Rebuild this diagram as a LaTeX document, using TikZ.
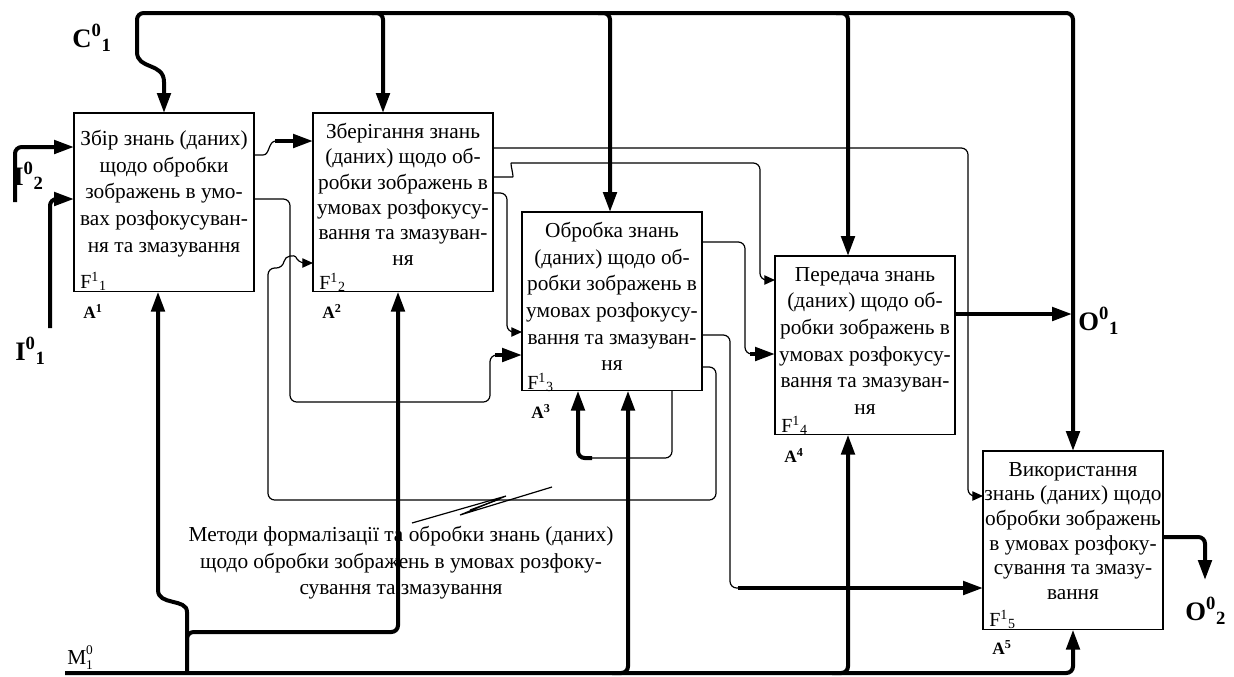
\documentclass[tikz,border=0pt]{standalone}
\usepackage{fontspec}
\setmainfont{Liberation Serif}
\usetikzlibrary{arrows.meta}
\newcommand\supsubx[2]{\textsuperscript{#1}\textsubscript{#2}}
\begin{document}
\begin{tikzpicture}[x=0.75pt,y=-0.75pt,
 box/.style={draw,line width=1pt,minimum width=135pt,minimum height=134pt,inner sep=0pt,outer sep=0pt,anchor=north west},
 thk/.style={line width=3pt},
 thn/.style={line width=0.9pt},
 bigarr/.style={-{Triangle[length=15pt,width=10pt]}},
 smallarr/.style={-{Triangle[length=8pt,width=7pt]}},
 btxt/.style={align=center,inner sep=0pt,anchor=north,font=\fontsize{16}{20}\selectfont},
 flab/.style={anchor=base west,inner sep=0pt,font=\fontsize{15}{15}\selectfont},
 alab/.style={anchor=base west,inner sep=0pt,font=\fontsize{13}{13}\selectfont\bfseries},
 io/.style={anchor=base west,inner sep=0pt,font=\fontsize{20}{20}\selectfont\bfseries},
 rc/.style={rounded corners=5pt}]
\useasboundingbox (0,0) rectangle (1234,676);

% boxes
\node[box] (b1) at (74,113) {};
\node[box] (b2) at (313,113) {};
\node[box] (b3) at (522,212) {};
\node[box] (b4) at (775,256) {};
\node[box] (b5) at (983,451) {};

\node[btxt] (t1) at (164,130) {Збір знань (даних)\\щодо обробки\\зображень в умо-\\вах розфокусуван-\\ня та змазування};
\node[btxt,font=\fontsize{16}{19}\selectfont] (t2) at (403,123) {Зберігання знань\\(даних) щодо об-\\робки зображень в\\умовах розфокусу-\\вання та змазуван-\\ня};
\node[btxt] (t3) at (612,222) {Обробка знань\\(даних) щодо об-\\робки зображень в\\умовах розфокусу-\\вання та змазуван-\\ня};
\node[btxt] (t4) at (865,267) {Передача знань\\(даних) щодо об-\\робки зображень в\\умовах розфокусу-\\вання та змазуван-\\ня};
\node[btxt,font=\fontsize{16}{18.5}\selectfont] (t5) at (1073,462) {Використання\\знань (даних) щодо\\обробки зображень\\в умовах розфоку-\\сування та змазу-\\вання};

\node[flab] (f1) at (80,288) {F\supsubx{1}{1}};
\node[flab] (f2) at (319,289) {F\supsubx{1}{2}};
\node[flab] (f3) at (527,389) {F\supsubx{1}{3}};
\node[flab] (f4) at (781,432) {F\supsubx{1}{4}};
\node[flab] (f5) at (989,626) {F\supsubx{1}{5}};

\node[alab] (a1) at (83,318) {A\textsuperscript{1}};
\node[alab] (a2) at (322,318) {A\textsuperscript{2}};
\node[alab] (a3) at (531,418) {A\textsuperscript{3}};
\node[alab] (a4) at (784,462) {A\textsuperscript{4}};
\node[alab] (a5) at (992,654) {A\textsuperscript{5}};

\node[io] (c1) at (72,47) {C\supsubx{0}{1}};
\node[io] (i2) at (13,185) {I\supsubx{0}{2}};
\node[io] (i1) at (15,360) {I\supsubx{0}{1}};
\node[io] (o1) at (1078,330) {O\supsubx{0}{1}};
\node[io] (o2) at (1185,620) {O\supsubx{0}{2}};
\node[anchor=base west,inner sep=0pt,font=\fontsize{16}{16}\selectfont] (m1) at (67,664) {M\rlap{\raisebox{7pt}{\fontsize{10}{10}\selectfont 0}}\raisebox{-4pt}{\fontsize{10}{10}\selectfont 1}};

\node[align=center,inner sep=0pt,anchor=north,font=\fontsize{16}{20}\selectfont] (note) at (401,526) {Методи формалізації та обробки знань (даних)\\щодо обробки зображень в умовах розфоку-\\сування та змазування};
\draw[thn] (note.north) ++(11,-3) coordinate (sq0) -- (506,496) -- (460,515) -- (552,487);
\draw[thn] (470,510) -- (500,499);

% control
\coordinate (cstart) at (137,52);
\draw[thk,bigarr,rc] (cstart) -- (137,13) -- (1073,13) -- (b5.north);
\draw[thk,bigarr] (cstart) .. controls (137,70) and (164,62) .. (164,82) -- (b1.north);
\draw[thk,bigarr,rc] (372,13) -- (383,13) -- (b2.north -| 383,0);
\draw[thk,bigarr,rc] (598,13) -- (610,13) -- (b3.north -| 610,0);
\draw[thk,bigarr,rc] (836,13) -- (848,13) -- (b4.north -| 848,0);

% mechanism
\coordinate (mstart) at (65,673);
\draw[thk,bigarr,rc] (mstart) -- (1073,673) -- (b5.south);
\draw[thk,bigarr] (187,673) -- (187,612) .. controls (187,598) and (158,606) .. (158,590) -- (b1.south -| 158,0);
\draw[thk,bigarr,rc] (187,650) -- (187,632) -- (398,632) -- (b2.south -| 398,0);
\draw[thk,bigarr,rc] (612,673) -- (628,673) -- (b3.south -| 628,0);
\draw[thk,bigarr,rc] (832,673) -- (848,673) -- (b4.south -| 848,0);

% inputs
\coordinate (in2) at (15,202);
\coordinate (in1) at (50,328);
\draw[thk,bigarr,rc] (in2) -- (15,147) -- (b1.west |- 0,147);
\draw[thk,bigarr,rc] (in1) -- (50,199) -- (b1.west |- 0,199);

% b1 -> b2
\draw[thn] (b1.east |- 0,155) -- (263,155) .. controls (270,155) and (268,141) .. (276,141);
\draw[thk,bigarr] (275,141) -- (b2.west |- 0,141);
% b1 -> b3
\draw[thn,rc] (b1.east |- 0,199) -- (290,199) -- (290,402) -- (490,402) -- (490,355) -- (497,355);
\draw[thk,bigarr] (495,355) -- (b3.west |- 0,355);
% b3 -> b2 feedback
\draw[thn,smallarr,rc] (b3.east |- 0,367) -- (716,367) -- (716,500) -- (268,500) -- (268,268) -- (283,268) .. controls (285,255) and (295,255) .. (298,263) -- (b2.west |- 0,263);
% b2 -> b5
\draw[thn,smallarr,rc] (b2.east |- 0,148) -- (968,148) -- (968,496) -- (b5.west |- 0,496);
% b2 -> b4
\draw[thn,smallarr,rc] (b2.east |- 0,177) -- (506,177) .. controls (514,177) and (510,163) .. (518,163) -- (760,163) -- (760,280) -- (b4.west |- 0,280);
% b2 -> b3
\draw[thn,smallarr,rc] (b2.east |- 0,193) -- (507,193) -- (507,332) -- (b3.west |- 0,332);
% b3 -> b4
\draw[thn,rc] (b3.east |- 0,242) -- (745,242) -- (745,354) -- (752,354);
\draw[thk,bigarr] (750,354) -- (b4.west |- 0,354);
% b3 -> b5
\draw[thn,rc] (b3.east |- 0,335) -- (730,335) -- (730,588) -- (740,588);
\draw[thk,bigarr] (738,588) -- (b5.west |- 0,588);
% b3 self loop
\draw[thn,rc] (b3.south -| 672,0) -- (672,458) -- (590,458);
\draw[thk,bigarr,rc] (592,458) -- (578,458) -- (b3.south -| 578,0);
% outputs
\draw[thk,bigarr] (b4.east |- 0,314) -- (1072,314);
\draw[thk,bigarr,rc] (b5.east |- 0,537) -- (1205,537) -- (1205,580);
\end{tikzpicture}
\end{document}
